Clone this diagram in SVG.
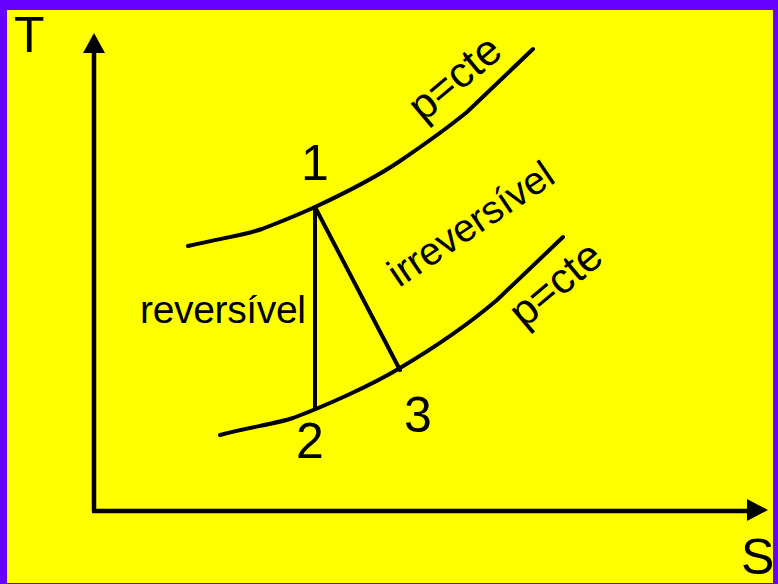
<svg xmlns="http://www.w3.org/2000/svg" width="778" height="584" viewBox="0 0 778 584">
<style>
.ax{stroke:#000;stroke-width:4.5;fill:none}
.cv{stroke:#000;stroke-width:4;fill:none;stroke-linecap:round;stroke-linejoin:round}
.big{font-family:"Liberation Sans",Arial,sans-serif;font-size:50px;fill:#000}
.lbl{font-family:"Liberation Sans",Arial,sans-serif;font-size:39px;fill:#000}
.pc{font-family:"Liberation Sans",Arial,sans-serif;font-size:43px;fill:#000}
</style>
<rect x="0" y="0" width="778" height="584" fill="#6600FF"/>
<rect x="7" y="10" width="766" height="573" fill="#FFFF00"/>
<g id="axes">
<line class="ax" x1="94" y1="50" x2="94" y2="511"/>
<line class="ax" x1="92" y1="511" x2="750" y2="511"/>
<polygon points="94,33 83,53 105,53" fill="#000"/>
<polygon points="768,510 747,499 747,521" fill="#000"/>
</g>
<g id="curve-top">
<path class="cv" d="M188,246 C222,238 245,235 262,229 C280,222 300,214 315,207 C345,193 375,178 400,161 C425,144 445,130 467,112 L533,49"/>
</g>
<g id="curve-bottom">
<path class="cv" d="M220,435 C250,427 275,424 293,418 C325,406 370,386 400,368 C432,349 470,323 497,300 L563,237"/>
</g>
<g id="connectors">
<line class="cv" x1="315" y1="207" x2="315" y2="408"/>
<line class="cv" x1="315" y1="207" x2="400" y2="370"/>
</g>
<g id="labels">
<text class="big" x="14" y="52">T</text>
<text class="big" x="741" y="574">S</text>
<text class="big" x="315" y="180" text-anchor="middle">1</text>
<text class="big" x="310" y="458" text-anchor="middle">2</text>
<text class="big" x="418" y="432" text-anchor="middle">3</text>
<text class="lbl" x="140" y="323" textLength="166">reversível</text>
<text class="lbl" transform="translate(399,288) rotate(-34)">irreversível</text>
<text class="pc" transform="translate(423,123) rotate(-40)">p=cte</text>
<text class="pc" transform="translate(524,329) rotate(-40)">p=cte</text>
</g>
</svg>
